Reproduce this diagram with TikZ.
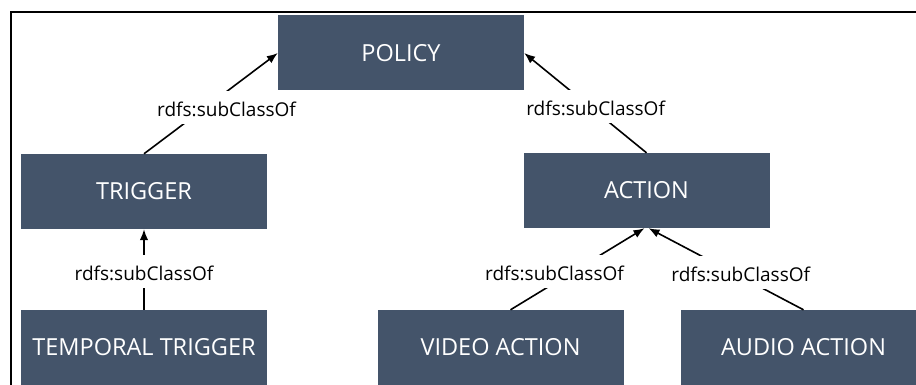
\documentclass[tikz,border=0pt]{standalone}
\usepackage{fontspec}
\setmainfont{Open Sans}
\usetikzlibrary{arrows.meta}
\begin{document}
\begin{tikzpicture}[x=1pt,y=-1pt,
  cls/.style={fill={rgb,255:red,68;green,84;blue,106}, minimum width=246pt, minimum height=75pt, inner sep=0pt, text=white, font=\fontsize{23.5}{28}\selectfont},
  sub/.style={line width=1.6pt, -{Latex[length=11pt,width=8.5pt]}},
  lbl/.style={fill=white, inner xsep=3pt, inner ysep=6.5pt, text height=19pt, text depth=1pt, font=\fontsize{19}{23}\selectfont}]
\clip (0,0) rectangle (916,385);
\useasboundingbox (0,0) rectangle (916,385);
\draw[line width=2pt] (10.5,385) -- (10.5,12) -- (916,12);

\node[cls] (policy) at (401,53) {POLICY};
\node[cls] (trigger) at (144,191.5) {TRIGGER};
\node[cls] (action) at (646.5,190.5) {ACTION};
\node[cls] (temporal) at (144,347.5) {TEMPORAL TRIGGER};
\node[cls] (video) at (500.5,347.5) {VIDEO ACTION};
\node[cls] (audio) at (803.5,347.5) {AUDIO ACTION};

\draw[sub] (trigger.north) -- (policy.west) node[lbl, pos=0.46, xshift=21pt] {rdfs:subClassOf};
\draw[sub] (action.north) -- (policy.east) node[lbl, pos=0.465, xshift=6pt] {rdfs:subClassOf};
\draw[sub] (temporal.north) -- (trigger.south) node[lbl, pos=0.47] {rdfs:subClassOf};
\draw[sub] ([xshift=10pt]video.north) -- ([xshift=-2pt]action.south) node[lbl, pos=0.47, xshift=-19pt] {rdfs:subClassOf};
\draw[sub] (audio.north) -- ([xshift=2pt]action.south) node[lbl, pos=0.463, xshift=9pt] {rdfs:subClassOf};
\end{tikzpicture}
\end{document}
